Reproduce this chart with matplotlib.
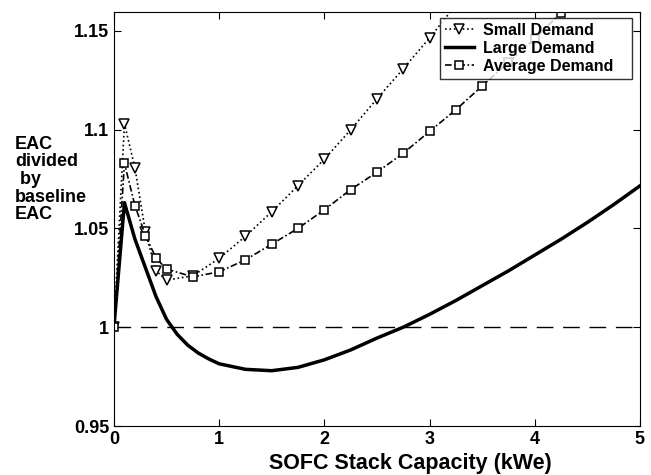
import matplotlib.pyplot as plt

plt.rcParams['font.family'] = ['Liberation Sans', 'DejaVu Sans']
plt.rcParams['font.weight'] = 'bold'

# SOFC stack capacity (kWe) for the marked series
cap = [0, 0.1, 0.2, 0.3, 0.4, 0.5, 0.75, 1.0, 1.25, 1.5, 1.75, 2.0, 2.25,
       2.5, 2.75, 3.0, 3.25, 3.5, 3.75, 4.0, 4.25, 4.5, 4.75, 5.0]

small = [1.0, 1.103, 1.0805, 1.048, 1.0285, 1.0238, 1.026, 1.0348, 1.046,
         1.0584, 1.0716, 1.085, 1.0998, 1.1155, 1.1307, 1.1463, 1.163,
         1.18, 1.197, 1.215, 1.233, 1.252, 1.271, 1.29]

average = [1.0, 1.0829, 1.0615, 1.0463, 1.035, 1.0294, 1.0255, 1.028,
           1.0341, 1.042, 1.050, 1.0594, 1.0696, 1.0784, 1.088, 1.099,
           1.110, 1.122, 1.134, 1.146, 1.159, 1.172, 1.185, 1.198]

# large demand curve (no markers, finer steps near the start)
cap_large = [0, 0.1, 0.2, 0.3, 0.4, 0.5, 0.6, 0.7, 0.8, 0.9, 1.0, 1.25, 1.5,
             1.75, 2.0, 2.25, 2.5, 2.75, 3.0, 3.25, 3.5, 3.75, 4.0, 4.25,
             4.5, 4.75, 5.0]
large = [1.0, 1.063, 1.0445, 1.030, 1.0155, 1.004, 0.9965, 0.991, 0.987,
         0.984, 0.9815, 0.9787, 0.978, 0.9797, 0.9835, 0.9885, 0.9945, 1.0,
         1.0065, 1.0135, 1.021, 1.0285, 1.0365, 1.0445, 1.053, 1.062, 1.0715]

labels = ['Small Demand', 'Large Demand', 'Average Demand']

fig = plt.figure(figsize=(6.51, 4.75), dpi=100)
ax = fig.add_axes([0.175, 0.103, 0.808, 0.872])

ax.plot([0, 5], [1, 1], color='black', lw=1, dashes=(12, 7))
l1, = ax.plot(cap, small, color='black', lw=1.2, ls=':', marker='v',
              markersize=6.5, markerfacecolor='white', markeredgewidth=1.1)
l2, = ax.plot(cap_large, large, color='black', lw=2.5, ls='-')
l3, = ax.plot(cap, average, color='black', lw=1.2, dashes=(4, 1.5, 1, 1.5),
              marker='s', markersize=5.5, markerfacecolor='white',
              markeredgewidth=1.1)

ax.set_xlim(0, 5)
ax.set_ylim(0.95, 1.1595)
ax.set_xticks([0, 1, 2, 3, 4, 5])
ax.set_yticks([0.95, 1.0, 1.05, 1.1, 1.15])
ax.set_yticklabels(['0.95', '1', '1.05', '1.1', '1.15'])
ax.tick_params(direction='in', top=True, right=True, labelsize=13, length=5)
for lab in ax.get_xticklabels() + ax.get_yticklabels():
    lab.set_fontweight('bold')

ax.set_xlabel('SOFC Stack Capacity (kWe)', fontsize=15.5, fontweight='bold')
ax.xaxis.set_label_coords(0.563, -0.065)
fig.text(0.023, 0.622, 'EAC\ndivided\n by\nbaseline\nEAC', ha='left',
         va='center', fontsize=13, fontweight='bold', linespacing=1.05)

leg = ax.legend([l1, l2, l3], [s + '   ' for s in labels],
                loc='upper left', bbox_to_anchor=(0.62, 0.9855),
                borderaxespad=0, frameon=True, fancybox=False,
                edgecolor='black', borderpad=0.3, labelspacing=0.2,
                handlelength=1.8, handletextpad=0.6,
                prop={'weight': 'bold', 'size': 11.5})
leg.get_frame().set_linewidth(1)

fig.savefig('out.png', dpi=100)
